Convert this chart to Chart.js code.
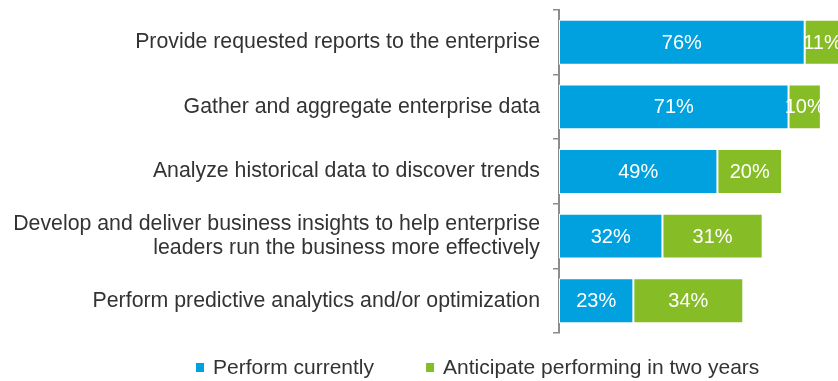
<!DOCTYPE html>
<html>
<head>
<meta charset="utf-8">
<script src="https://cdn.jsdelivr.net/npm/chart.js@4/dist/chart.umd.min.js"></script>
<style>
  html, body { margin: 0; padding: 0; background: #ffffff; }
  #wrap { width: 838px; height: 381px; }
</style>
</head>
<body>
<div id="wrap"><canvas id="c" width="838" height="381"></canvas></div>
<script>
const categories = [
  "Provide requested reports to the enterprise",
  "Gather and aggregate enterprise data",
  "Analyze historical data to discover trends",
  ["Develop and deliver business insights to help enterprise", "leaders run the business more effectively"],
  "Perform predictive analytics and/or optimization"
];
const seriesNames = ["Perform currently", "Anticipate performing in two years"];
const performCurrently = [76, 71, 49, 32, 23];
const anticipateInTwoYears = [11, 10, 20, 31, 34];
const seriesColors = ["#00A1DE", "#86BC25"];

const FONT = "'Liberation Sans', Arial, Helvetica, sans-serif";
const TEXT = "#333333";

const valueLabels = {
  id: 'valueLabels',
  afterDatasetsDraw(chart) {
    const ctx = chart.ctx;
    ctx.save();
    ctx.fillStyle = '#ffffff';
    ctx.font = '20px ' + FONT;
    ctx.textAlign = 'center';
    ctx.textBaseline = 'middle';
    chart.data.datasets.forEach((ds, di) => {
      const meta = chart.getDatasetMeta(di);
      meta.data.forEach((bar, i) => {
        const p = bar.getProps(['x', 'y', 'base'], true);
        const cx = (p.x + p.base) / 2;
        ctx.fillText(ds.data[i] + '%', cx, p.y + 1);
      });
    });
    ctx.restore();
  }
};

const customLegend = {
  id: 'customLegend',
  afterDraw(chart) {
    const ctx = chart.ctx;
    ctx.save();
    ctx.font = '21px ' + FONT;
    ctx.textBaseline = 'middle';
    ctx.textAlign = 'left';
    let x = 196;
    const yMid = 367.5;
    chart.data.datasets.forEach((ds) => {
      ctx.fillStyle = ds.backgroundColor;
      ctx.fillRect(x, yMid - 4.5, 8, 9);
      ctx.fillStyle = TEXT;
      ctx.fillText(ds.label, x + 17, yMid + 1);
      x += 17 + ctx.measureText(ds.label).width + 52;
    });
    ctx.restore();
  }
};

new Chart(document.getElementById('c'), {
  type: 'bar',
  data: {
    labels: categories,
    datasets: [
      { label: seriesNames[0], data: performCurrently, backgroundColor: seriesColors[0],
        borderColor: '#ffffff', borderWidth: 1, borderSkipped: false,
        categoryPercentage: 1.0, barPercentage: 0.695 },
      { label: seriesNames[1], data: anticipateInTwoYears, backgroundColor: seriesColors[1],
        borderColor: '#ffffff', borderWidth: 1, borderSkipped: false,
        categoryPercentage: 1.0, barPercentage: 0.695 }
    ]
  },
  options: {
    indexAxis: 'y',
    responsive: false,
    animation: false,
    devicePixelRatio: 1,
    layout: { padding: { top: 10, bottom: 48, left: 0, right: 0 } },
    plugins: {
      legend: { display: false },
      tooltip: { enabled: false }
    },
    scales: {
      x: {
        stacked: true,
        display: false,
        min: 0,
        max: 86.3
      },
      y: {
        stacked: true,
        afterFit(scale) {
          scale.width = 559;
          scale.paddingTop = 0;
          scale.paddingBottom = 0;
        },
        grid: {
          drawOnChartArea: false,
          drawTicks: true,
          tickLength: 6,
          color: '#8c8c8c',
          lineWidth: 1.5
        },
        border: { display: true, color: '#8c8c8c', width: 2 },
        ticks: {
          color: TEXT,
          padding: 13,
          font: { family: FONT, size: 21.3, lineHeight: 1.15 },
          autoSkip: false
        }
      }
    }
  },
  plugins: [valueLabels, customLegend]
});
</script>
</body>
</html>
